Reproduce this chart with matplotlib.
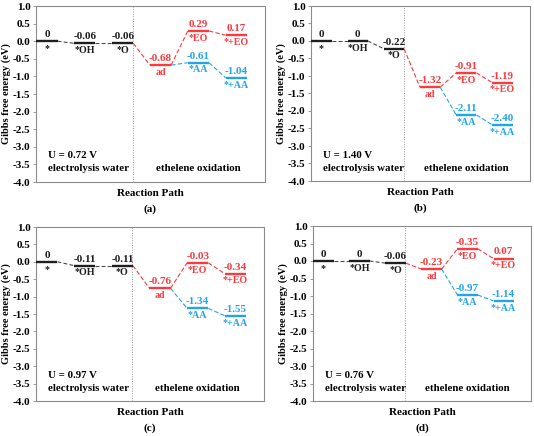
import matplotlib
matplotlib.use('Agg')
import matplotlib.pyplot as plt

plt.rcParams['font.family'] = ['Liberation Serif', 'DejaVu Serif']
plt.rcParams['font.weight'] = 'bold'

# panel data (eV)
panels = ['(a)', '(b)', '(c)', '(d)']
potentials = ['U = 0.72 V', 'U = 1.40 V', 'U = 0.97 V', 'U = 0.76 V']

water_names = ['*', '*OH', '*O']
water_a = [0, -0.06, -0.06]
water_b = [0, 0, -0.22]
water_c = [0, -0.11, -0.11]
water_d = [0, 0, -0.06]

# ethelene oxidation: ad, *EO, *+EO, *AA, *+AA
eo_names = ['ad', '*EO', '*+EO']
aa_names = ['*AA', '*+AA']
ad_vals = [-0.68, -1.32, -0.76, -0.23]
eo_vals = [[0.29, 0.17], [-0.91, -1.19], [-0.03, -0.34], [0.35, 0.07]]
aa_vals = [[-0.61, -1.04], [-2.11, -2.40], [-1.34, -1.55], [-0.97, -1.14]]
# printed labels (panel d prints "-0.35" on the *EO level)
eo_text = [['0.29', '0.17'], ['-0.91', '-1.19'], ['-0.03', '-0.34'], ['-0.35', '0.07']]
water_text = [['0', '-0.06', '-0.06'], ['0', '0', '-0.22'],
              ['0', '-0.11', '-0.11'], ['0', '0', '-0.06']]

water_all = [water_a, water_b, water_c, water_d]

RED = '#fa3a3e'
BLUE = '#24a4e8'
BLACK = '#1e1e1e'
SPINE = '#8c8c8c'

W, H = 534, 436
fig = plt.figure(figsize=(W / 100, H / 100), dpi=100)

# axes boxes in pixels: left, right, top, bottom
boxes = [(36, 265, 6, 182), (311, 530, 6, 181), (36, 264, 227, 401), (313, 531, 226, 401)]

hw = 0.28
fs = 8


def level(ax, x, y, color, top, bot, first=False):
    x0 = -0.29 if first else x - hw
    ax.plot([x0, x + hw], [y, y], color=color, lw=1.7, solid_capstyle='butt', zorder=3)
    ax.annotate(top, (x, y), xytext=(0, 1.5), textcoords='offset points',
                ha='center', va='bottom', color=color, fontsize=fs, fontweight='bold')
    ax.annotate(bot, (x, y), xytext=(0, -2), textcoords='offset points',
                ha='center', va='top', color=color, fontsize=fs - 0.8, fontweight='bold')


def link(ax, x1, y1, x2, y2, color, ls=(0, (4, 2))):
    ax.plot([x1 + hw, x2 - hw], [y1, y2], color=color, lw=0.8, linestyle=ls, zorder=2)


for i in range(4):
    l, r, t, b = boxes[i]
    ax = fig.add_axes([l / W, (H - b) / H, (r - l) / W, (b - t) / H])
    water = water_all[i]

    for k in range(3):
        level(ax, k, water[k], BLACK, water_text[i][k], water_names[k], first=(k == 0))
    for k in range(2):
        link(ax, k, water[k], k + 1, water[k + 1], '#4a4a4a', ls=(0, (3.5, 2)))

    level(ax, 3, ad_vals[i], RED, '%.2f' % ad_vals[i], 'ad')
    link(ax, 2, water[2], 3, ad_vals[i], RED)
    prev = ad_vals[i]
    for k in range(2):
        level(ax, 4 + k, eo_vals[i][k], RED, eo_text[i][k], eo_names[k + 1])
        link(ax, 3 + k, prev, 4 + k, eo_vals[i][k], RED)
        prev = eo_vals[i][k]
    prev = ad_vals[i]
    for k in range(2):
        level(ax, 4 + k, aa_vals[i][k], BLUE, '%.2f' % aa_vals[i][k], aa_names[k])
        link(ax, 3 + k, prev, 4 + k, aa_vals[i][k], BLUE)
        prev = aa_vals[i][k]

    ax.axvline(2.27, color='#999999', lw=0.7, linestyle=(0, (1, 1.5)), zorder=1)

    ax.text(0.03, -3.26, potentials[i], ha='left', va='center', fontsize=7.8,
            fontweight='bold')
    ax.text(0.03, -3.63, 'electrolysis water', ha='left', va='center', fontsize=7.8,
            fontweight='bold')
    ax.text(4.0, -3.63, 'ethelene oxidation', ha='center', va='center', fontsize=7.8,
            fontweight='bold')

    ax.set_xlim(-0.29, 5.76)
    ax.set_ylim(-4.0, 1.0)
    ax.set_yticks([-4.0 + 0.5 * j for j in range(11)])
    ax.set_yticklabels(['%.1f' % (-4.0 + 0.5 * j) for j in range(11)])
    ax.set_xticks([])
    ax.tick_params(axis='y', direction='out', length=2.5, width=0.6, color=SPINE,
                   labelsize=8, pad=1.5)
    for s in ax.spines.values():
        s.set_color(SPINE)
        s.set_linewidth(0.8)
    ax.set_ylabel('Gibbs free energy (eV)', fontsize=7.5, fontweight='bold', labelpad=1.5)

    cx = (l + r) / 2 / W
    fig.text(cx, 1 - (b + 11) / H, 'Reaction Path', ha='center', va='center',
             fontsize=8, fontweight='bold')
    fig.text(cx, 1 - (b + 27) / H, panels[i], ha='center', va='center',
             fontsize=8, fontweight='bold')

fig.savefig('out.png', dpi=100)
